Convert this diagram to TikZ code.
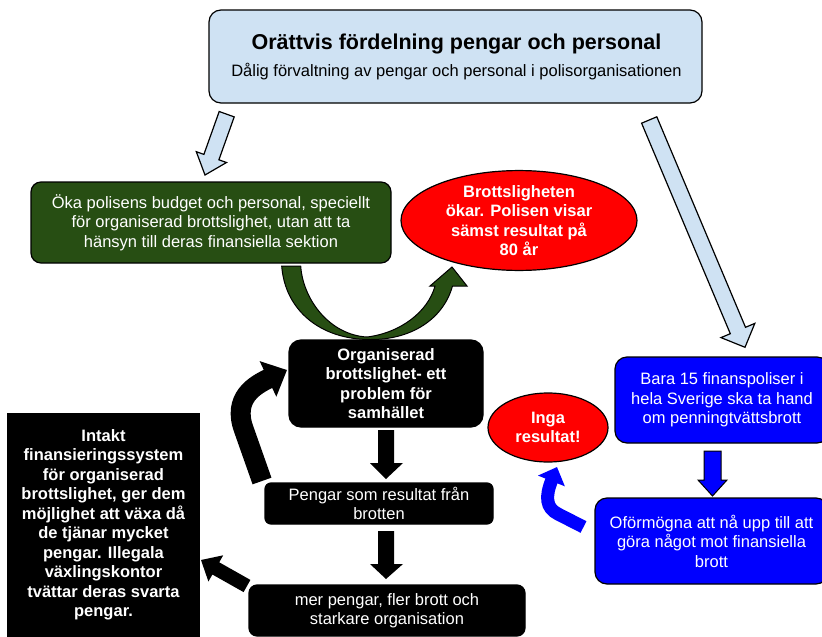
\documentclass[tikz,border=0pt]{standalone}
\usepackage{fontspec}
\setmainfont{Liberation Sans}
\usetikzlibrary{arrows.meta,shapes.geometric}
\definecolor{lightblue}{HTML}{CFE2F3}
\definecolor{darkgreen}{HTML}{274E13}
\definecolor{pureblue}{HTML}{0000FF}
\definecolor{purered}{HTML}{FF0000}
\newcommand\myfs{\fontsize{16.5}{19.5}\selectfont}
\begin{document}
\begin{tikzpicture}[x=1pt,y=-1pt,
  box/.style={draw=black, line width=1.2pt, rounded corners=10pt, inner sep=0pt, align=center, font=\myfs, text=white},
  ell/.style={ellipse, draw=black, line width=1.2pt, fill=purered, inner sep=0pt, align=center, font=\myfs\bfseries, text=white},
  hollowarrow/.style={fill=lightblue, draw=black, line width=1.2pt, line join=miter},
  greenarrow/.style={fill=darkgreen, draw=black, line width=1pt},
  blockarrow/.style={fill=black},
]
\useasboundingbox (0,0) rectangle (822,637);
\clip (0,0) rectangle (822,637);

% top box
\node[box, fill=lightblue, text=black, minimum width=493pt, minimum height=93pt, rounded corners=12pt] (top) at (455.5,56.5) {};
\node[font=\bfseries\fontsize{21.5}{25}\selectfont] (title) at (456.5,44) {Orättvis fördelning pengar och personal};
\node[font=\myfs] (subtitle) at (456.5,72) {Dålig förvaltning av pengar och personal i polisorganisationen};

% green box
\node[box, fill=darkgreen, minimum width=360pt, minimum height=81pt] (green) at (211,222.5)
  {Öka polisens budget och personal, speciellt\\för organiserad brottslighet, utan att ta\\hänsyn till deras finansiella sektion};

% red ellipse
\node[ell, minimum width=236pt, minimum height=95pt] (crime) at (519,220.5)
  {Brottsligheten\\ökar. Polisen visar\\sämst resultat på\\80 år};

% black boxes
\node[box, fill=black, minimum width=194pt, minimum height=87pt, rounded corners=12pt, font=\myfs\bfseries] (org) at (386,383.5)
  {Organiserad\\brottslighet- ett\\problem för\\samhället};
\node[box, fill=black, minimum width=228pt, minimum height=41pt, rounded corners=6pt] (money) at (379,503.5)
  {Pengar som resultat från\\brotten};
\node[box, fill=black, minimum width=276pt, minimum height=51pt, rounded corners=8pt] (more) at (387,610.5)
  {mer pengar, fler brott och\\starkare organisation};
\node[box, fill=black, sharp corners, minimum width=191pt, minimum height=222pt, font=\myfs\bfseries] (intakt) at (103.5,525)
  {Intakt\\finansieringssystem\\för organiserad\\brottslighet, ger dem\\möjlighet att växa då\\de tjänar mycket\\pengar. Illegala\\växlingskontor\\tvättar deras svarta\\pengar.};

% blue boxes
\node[box, fill=pureblue, minimum width=214pt, minimum height=86pt, rounded corners=12pt] (few) at (722,400)
  {Bara 15 finanspoliser i\\hela Sverige ska ta hand\\om penningtvättsbrott};
\node[box, fill=pureblue, minimum width=233pt, minimum height=86pt, rounded corners=12pt] (unable) at (711.5,541)
  {Oförmögna att nå upp till att\\göra något mot finansiella\\brott};

% red ellipse 2
\node[ell, minimum width=120pt, minimum height=69pt] (none) at (548,427.5) {Inga\\resultat!};

% light blue arrows
\filldraw[hollowarrow] (219.2,111.5) -- (234.2,116.9) -- (218.9,159.8) -- (226.5,162.5) -- (205,175) -- (196.3,151.7) -- (203.9,154.4) -- cycle;
\filldraw[hollowarrow] (641.6,123.2) -- (656.8,116.8) -- (745.5,327.3) -- (754.8,323.4) -- (745,347.3) -- (721,337.6) -- (730.3,333.7) -- cycle;

% green U arrow
\filldraw[greenarrow] (281.7,266) -- (300.7,266)
  .. controls (303,300) and (330,335) .. (367,337)
  .. controls (400,333) and (428,312) .. (435,286)
  -- (430,286) -- (452,267) -- (467,286) -- (452.5,286)
  .. controls (443,320) and (410,340) .. (370,339.5)
  .. controls (320,339.5) and (285,310) .. (281.7,266) -- cycle;

% black straight arrows
\fill[blockarrow] (378,430) -- (394,430) -- (394,463) -- (403,463) -- (386,479) -- (370,463) -- (378,463) -- cycle;
\fill[blockarrow] (378,531) -- (394,531) -- (394,564) -- (403,564) -- (386,579) -- (370,564) -- (378,564) -- cycle;
\fill[blockarrow] (243.6,592.1) -- (250.4,579.9) -- (219.2,562.3) -- (223.2,555.3) -- (201,560) -- (208.4,581.5) -- (212.4,574.5) -- cycle;

% black curved arrow
\draw[line width=20pt, -{Triangle[width=38pt,length=21pt]}] (262,481) -- (244,430) .. controls (232,398) and (255,385) .. (287,370);

% blue arrows
\filldraw[fill=pureblue, draw=black, line width=1pt] (704,451) -- (721,451) -- (721,480) -- (727,480) -- (712.5,496) -- (698,480) -- (704,480) -- cycle;
\draw[pureblue, line width=13pt, -{Triangle[width=28pt,length=15pt]}] (583.5,527) -- (558,514) .. controls (546,508) and (545,497) .. (557,467);
\end{tikzpicture}
\end{document}
